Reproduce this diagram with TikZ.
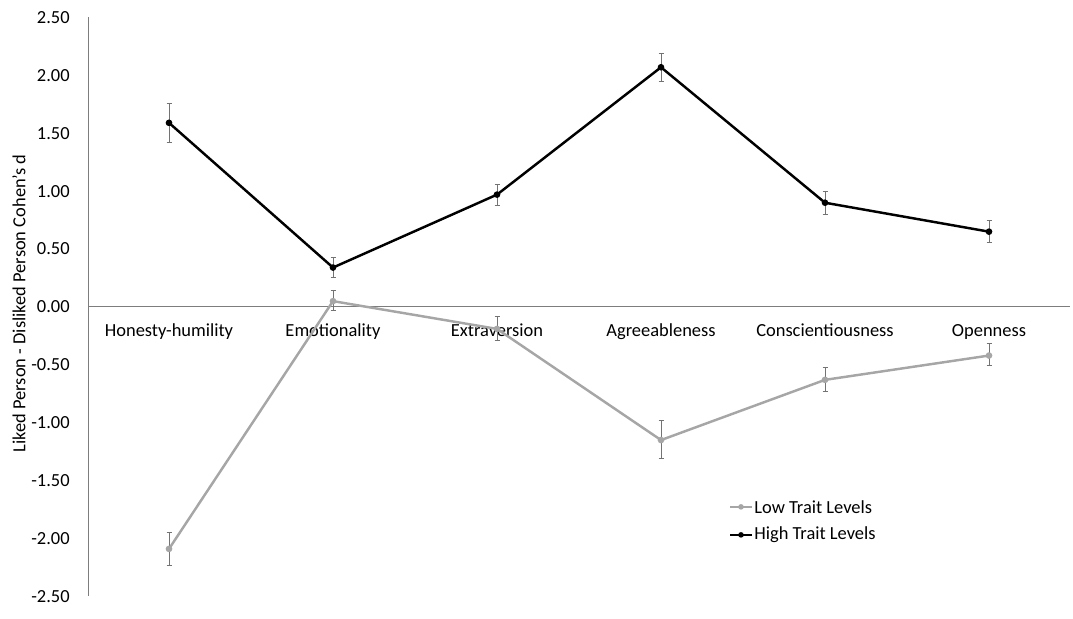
\documentclass[tikz,border=0pt]{standalone}
\usepackage{fontspec}
\setmainfont{Carlito}
\definecolor{lowgray}{RGB}{166,166,166}
\definecolor{bargray}{RGB}{115,115,115}
\definecolor{axisgray}{RGB}{125,125,125}
\tikzset{
  errbar/.style={bargray,line width=0.55pt},
  highline/.style={black,line width=1.4pt,line join=round},
  lowline/.style={lowgray,line width=1.4pt,line join=round},
  ticklabel/.style={anchor=east,inner sep=0pt},
  catlabel/.style={anchor=base,inner sep=0pt}
}
\begin{document}
\begin{tikzpicture}[x=0.02cm,y=2.316cm,font=\fontsize{10.5}{12}\selectfont]
\useasboundingbox (0,-2.694) rectangle (1073,2.651);
% axes
\draw[axisgray,line width=0.55pt](88,2.5)--(88,-2.5);
\draw[axisgray,line width=0.55pt](88,0)--(1070,0);
% tick labels
\node[ticklabel] (t1) at (70,2.5) {2.50};
\node[ticklabel] (t2) at (70,2) {2.00};
\node[ticklabel] (t3) at (70,1.5) {1.50};
\node[ticklabel] (t4) at (70,1) {1.00};
\node[ticklabel] (t5) at (70,0.5) {0.50};
\node[ticklabel] (t6) at (70,0) {0.00};
\node[ticklabel] (t7) at (70,-0.5) {-0.50};
\node[ticklabel] (t8) at (70,-1) {-1.00};
\node[ticklabel] (t9) at (70,-1.5) {-1.50};
\node[ticklabel] (t10) at (70,-2) {-2.00};
\node[ticklabel] (t11) at (70,-2.5) {-2.50};
\node[rotate=90,inner sep=0pt] (ylab) at (19,0.03) {Liked Person - Disliked Person Cohen's d};
% category labels
\node[catlabel] (hh) at (169,-0.255) {Honesty-humility};
\node[catlabel] (em) at (333,-0.255) {Emotionality};
\node[catlabel] (ex) at (497,-0.255) {Extraversion};
\node[catlabel] (ag) at (661,-0.255) {Agreeableness};
\node[catlabel] (co) at (825,-0.255) {Conscientiousness};
\node[catlabel] (op) at (989,-0.255) {Openness};
% error bars, low trait levels
\draw[errbar](169,-1.95)--(169,-2.23)(166.5,-1.95)--(171.5,-1.95)(166.5,-2.23)--(171.5,-2.23);
\draw[errbar](333,0.14)--(333,-0.03)(330.5,0.14)--(335.5,0.14)(330.5,-0.03)--(335.5,-0.03);
\draw[errbar](497,-0.08)--(497,-0.29)(494.5,-0.08)--(499.5,-0.08)(494.5,-0.29)--(499.5,-0.29);
\draw[errbar](661,-0.98)--(661,-1.31)(658.5,-0.98)--(663.5,-0.98)(658.5,-1.31)--(663.5,-1.31);
\draw[errbar](825,-0.52)--(825,-0.73)(822.5,-0.52)--(827.5,-0.52)(822.5,-0.73)--(827.5,-0.73);
\draw[errbar](989,-0.32)--(989,-0.51)(986.5,-0.32)--(991.5,-0.32)(986.5,-0.51)--(991.5,-0.51);
% low trait levels
\coordinate (l1) at (169,-2.09);
\coordinate (l2) at (333,0.05);
\coordinate (l3) at (497,-0.19);
\coordinate (l4) at (661,-1.15);
\coordinate (l5) at (825,-0.63);
\coordinate (l6) at (989,-0.42);
\draw[lowline](l1)--(l2)--(l3)--(l4)--(l5)--(l6);
\fill[lowgray](l1)circle[radius=1.9pt];
\fill[lowgray](l2)circle[radius=1.9pt];
\fill[lowgray](l3)circle[radius=1.9pt];
\fill[lowgray](l4)circle[radius=1.9pt];
\fill[lowgray](l5)circle[radius=1.9pt];
\fill[lowgray](l6)circle[radius=1.9pt];
% error bars, high trait levels
\draw[errbar](169,1.76)--(169,1.42)(166.5,1.76)--(171.5,1.76)(166.5,1.42)--(171.5,1.42);
\draw[errbar](333,0.43)--(333,0.25)(330.5,0.43)--(335.5,0.43)(330.5,0.25)--(335.5,0.25);
\draw[errbar](497,1.06)--(497,0.88)(494.5,1.06)--(499.5,1.06)(494.5,0.88)--(499.5,0.88);
\draw[errbar](661,2.19)--(661,1.95)(658.5,2.19)--(663.5,2.19)(658.5,1.95)--(663.5,1.95);
\draw[errbar](825,1.00)--(825,0.80)(822.5,1.00)--(827.5,1.00)(822.5,0.80)--(827.5,0.80);
\draw[errbar](989,0.75)--(989,0.56)(986.5,0.75)--(991.5,0.75)(986.5,0.56)--(991.5,0.56);
% high trait levels
\coordinate (h1) at (169,1.59);
\coordinate (h2) at (333,0.34);
\coordinate (h3) at (497,0.97);
\coordinate (h4) at (661,2.07);
\coordinate (h5) at (825,0.90);
\coordinate (h6) at (989,0.65);
\draw[highline](h1)--(h2)--(h3)--(h4)--(h5)--(h6);
\fill[black](h1)circle[radius=1.9pt];
\fill[black](h2)circle[radius=1.9pt];
\fill[black](h3)circle[radius=1.9pt];
\fill[black](h4)circle[radius=1.9pt];
\fill[black](h5)circle[radius=1.9pt];
\fill[black](h6)circle[radius=1.9pt];
% legend
\coordinate (la) at (730,-1.727);
\coordinate (lb) at (752,-1.727);
\coordinate (ha) at (730,-1.969);
\coordinate (hb) at (752,-1.969);
\draw[lowline](la)--(lb);
\fill[lowgray](741,-1.727)circle[radius=1.6pt];
\draw[highline](ha)--(hb);
\fill[black](741,-1.969)circle[radius=1.6pt];
\node[anchor=west,inner sep=0pt] (lowkey) at (754,-1.727) {Low Trait Levels};
\node[anchor=west,inner sep=0pt] (highkey) at (754,-1.969) {High Trait Levels};
\end{tikzpicture}
\end{document}
